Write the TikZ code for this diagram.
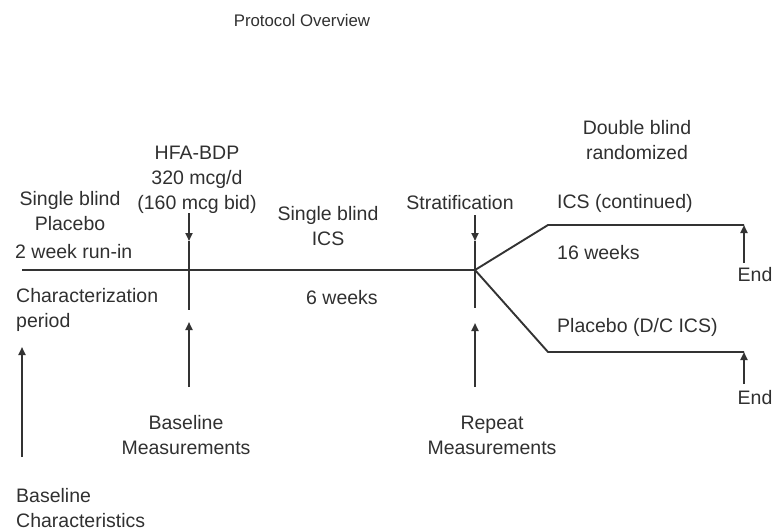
\documentclass[tikz,border=0pt]{standalone}
\usepackage{fontspec}
\setmainfont{Liberation Sans}
\usetikzlibrary{arrows.meta}
\definecolor{ink}{HTML}{303030}
\definecolor{lin}{HTML}{333333}
\begin{document}
\begin{tikzpicture}[x=1pt,y=-1pt,
  lbl/.style={text=ink,inner sep=0pt,font=\fontsize{19.5}{25}\selectfont},
  ln/.style={draw=lin,line width=1.9pt},
  arr/.style={ln,-{Triangle[length=8pt,width=7pt]}}]
\useasboundingbox (0,0) rectangle (776,531);
% coordinates
\coordinate (start) at (22,270);
\coordinate (branch) at (475,270);
\coordinate (upK) at (548,225);
\coordinate (upE) at (744,225);
\coordinate (loK) at (548,352);
\coordinate (loE) at (744,352);
\coordinate (hfaTop) at (189,213);
\coordinate (hfaTip) at (189,241);
\coordinate (hfaBot) at (189,310);
\coordinate (bmTail) at (189,387);
\coordinate (bmTip) at (189,322);
\coordinate (bcTail) at (22,457);
\coordinate (bcTip) at (22,347);
\coordinate (stTop) at (475,215);
\coordinate (stTip) at (475,241);
\coordinate (stBot) at (475,308);
\coordinate (rmTail) at (475,387);
\coordinate (rmTip) at (475,323);
\coordinate (e1Tail) at (744,263);
\coordinate (e2Tail) at (744,384);
% lines
\draw[ln] (start) -- (branch);
\draw[ln,line join=round] (branch) -- (upK) -- (upE);
\draw[ln,line join=round] (branch) -- (loK) -- (loE);
\draw[arr] (hfaTop) -- (hfaTip);
\draw[ln] (hfaTip) -- (hfaBot);
\draw[arr] (bmTail) -- (bmTip);
\draw[arr] (bcTail) -- (bcTip);
\draw[arr] (stTop) -- (stTip);
\draw[ln] (stTip) -- (stBot);
\draw[arr] (rmTail) -- (rmTip);
\draw[arr] (e1Tail) -- (upE);
\draw[arr] (e2Tail) -- (loE);
% labels
\node[lbl,font=\fontsize{16.8}{20}\selectfont] (title) at (302,20) {Protocol Overview};
\node[lbl,align=center] (dbl) at (637,140) {Double blind\\randomized};
\node[lbl,align=center] (hfa) at (197,180) {HFA-BDP\\320 mcg/d\\(160 mcg bid)};
\node[lbl,align=center] (sbp) at (70,211) {Single blind\\Placebo};
\node[lbl,anchor=west] (runin) at (15,252) {2 week run-in};
\node[lbl,anchor=west,align=left] (charp) at (16,310) {Characterization\\period};
\node[lbl,align=center] (sbi) at (328,226) {Single blind\\ICS};
\node[lbl] (six) at (342,298) {6 weeks};
\node[lbl] (strat) at (460,203) {Stratification};
\node[lbl,anchor=west] (icsc) at (557,203) {ICS (continued)};
\node[lbl,anchor=west] (sixteen) at (557,253) {16 weeks};
\node[lbl] (end1) at (755,275) {End};
\node[lbl,anchor=west] (pla) at (557,327) {Placebo (D/C ICS)};
\node[lbl] (end2) at (755,398) {End};
\node[lbl,align=center] (bm) at (186,435) {Baseline\\Measurements};
\node[lbl,align=center] (rm) at (492,435) {Repeat\\Measurements};
\node[lbl,anchor=west,align=left] (bc) at (16,508) {Baseline\\Characteristics};
\end{tikzpicture}
\end{document}
